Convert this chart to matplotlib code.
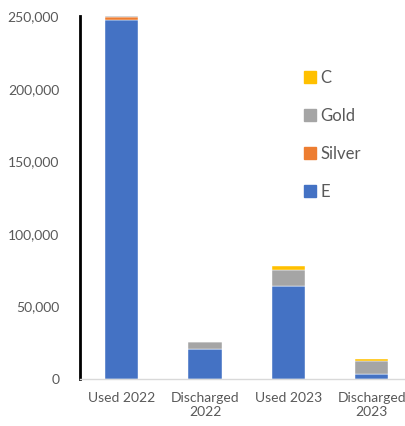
import numpy as np
import matplotlib.pyplot as plt
from matplotlib.patches import Patch

# categorias e valores por segmento
categorias = ['Used 2022', 'Discharged\n2022', 'Used 2023', 'Discharged\n2023']
serie_e = [247500, 20700, 64500, 3400]
serie_silver = [1600, 0, 0, 0]
serie_gold = [1100, 5000, 10800, 9200]
serie_c = [0, 0, 3000, 1400]

cores = {'E': '#4472C4', 'Silver': '#ED7D31', 'Gold': '#A5A5A5', 'C': '#FFC000'}
cinza_texto = '#595959'

plt.rcParams['font.family'] = ['Lato', 'DejaVu Sans']

fig = plt.figure(figsize=(4.05, 4.26), dpi=100)
ax = fig.add_axes([80 / 405, 46.7 / 426, 333.3 / 405, 363.3 / 426])

x = np.arange(len(categorias))
largura = 0.4
base = np.zeros(len(categorias))
for nome, valores in [('E', serie_e), ('Silver', serie_silver), ('Gold', serie_gold), ('C', serie_c)]:
    ax.bar(x, valores, largura, bottom=base, color=cores[nome], edgecolor='white', linewidth=0.3)
    base += np.array(valores)

ax.set_xlim(-0.5, 3.5)
ax.set_ylim(0, 250000)
ax.set_yticks(np.arange(0, 250001, 50000))
ax.yaxis.set_major_formatter(plt.FuncFormatter(lambda v, p: f'{int(v):,}'))
ax.set_xticks(x)
ax.set_xticklabels(categorias)
ax.tick_params(axis='both', length=0, labelsize=10, colors=cinza_texto)
ax.tick_params(axis='y', pad=15)
ax.tick_params(axis='x', pad=9)

for lado in ['top', 'right']:
    ax.spines[lado].set_visible(False)
ax.spines['left'].set_color('black')
ax.spines['left'].set_linewidth(2)
ax.spines['bottom'].set_color('#D9D9D9')
ax.spines['bottom'].set_linewidth(1)

# legenda na ordem inversa do empilhamento
handles = [Patch(color=cores[n]) for n in ['C', 'Gold', 'Silver', 'E']]
leg = ax.legend(handles, ['C', 'Gold', 'Silver', 'E'], loc='upper left',
                bbox_to_anchor=(289 / 405, 1 - 55 / 426), bbox_transform=fig.transFigure,
                frameon=False, fontsize=12, handlelength=0.7, handleheight=0.7,
                handletextpad=0.3, labelspacing=1.32)
for t in leg.get_texts():
    t.set_color(cinza_texto)

fig.savefig('out.png', dpi=100)
